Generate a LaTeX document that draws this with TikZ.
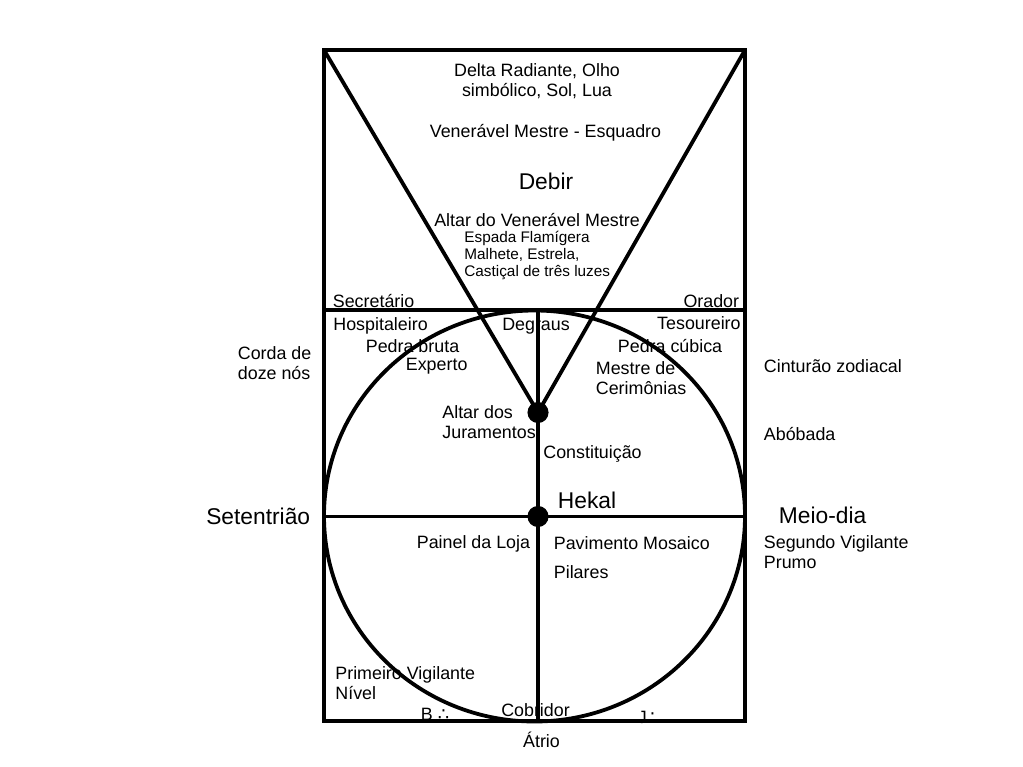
\documentclass[tikz,border=0pt]{standalone}
\usepackage{fontspec}
\setmainfont{Liberation Sans}
\newfontfamily\dejavu{DejaVu Sans}

\begin{document}
\begin{tikzpicture}[x=0.025cm,y=-0.025cm,line width=2.7pt,inner sep=0pt,
	                    line join=miter]
	  	\tikzstyle{txt}=[font=\fontsize{12.7}{14.2}\selectfont]
	  	\tikzstyle{smalltxt}=[font=\fontsize{10.9}{12}\selectfont]
	  	\tikzstyle{bigtxt}=[font=\fontsize{16.2}{18}\selectfont]
	  	\tikzstyle{dotnode}=[circle,fill=black,minimum size=15pt,inner sep=0pt]

		  \useasboundingbox (0,0) rectangle (1023,767);

		  \coordinate (NW) at (324,50);
		  \coordinate (NE) at (745,50);
		  \coordinate (SW) at (324,721);
		  \coordinate (SE) at (745,721);
		  \coordinate (W)  at (324,310);
		  \coordinate (E)  at (745,310);
		  \coordinate (ML) at (324,516.5);
		  \coordinate (MR) at (745,516.5);
		  \coordinate (T)  at (538,310);
		  \coordinate (B)  at (538,721);
		  \coordinate (C)  at (534.5,516);

		  \node[dotnode]        (altar) at (538,412.5) {};
		  \node[dotnode]        (hekal) at (538,516.5) {};

		  \draw (NW) rectangle (SE);
		  \draw (W) -- (E);
		  \draw (ML) -- (MR);
		  \draw (T) -- (B);
		  \draw (NW) -- (altar.center) -- (NE);
		  \draw (C) ellipse [x radius=210.5, y radius=205.5];

		  % Debir
		  \node[txt,align=center]          (delta)        at (537,81.5)    {Delta Radiante, Olho\\simbólico, Sol, Lua};
		  \node[txt]                       (venmestre)    at (545.5,133)   {Venerável Mestre - Esquadro};
		  \node[bigtxt]                    (debir)        at (546,181.5)   {Debir};
		  \node[txt]                       (altarvm)      at (537,220)     {Altar do Venerável Mestre};
		  \node[smalltxt,align=left,anchor=west] (espada) at (462.5,255.5) {Espada Flamígera\\Malhete, Estrela,\\Castiçal de três luzes};
		  \node[txt,anchor=west]           (secretario)   at (331,301)     {Secretário};
		  \node[txt,anchor=east]           (orador)       at (741,301)     {Orador};

		  % Hekal
		  \node[txt,anchor=west]           (hospitaleiro) at (331.5,326)   {Hospitaleiro};
		  \node[txt]                       (degraus)      at (536,326)     {Degraus};
		  \node[txt,anchor=east]           (tesoureiro)   at (742.5,323)   {Tesoureiro};
		  \node[txt,anchor=west]           (pedrabruta)   at (364,346)     {Pedra bruta};
		  \node[txt,anchor=west]           (pedracubica)  at (616,346)     {Pedra cúbica};
		  \node[txt,anchor=west]           (experto)      at (404,366.5)   {Experto};
		  \node[txt,anchor=west,align=left] (mestrecer)   at (594,378)     {Mestre de\\Cerimônias};
		  \node[txt,anchor=west,align=left] (juramentos)  at (440.5,422)   {Altar dos\\Juramentos};
		  \node[txt,anchor=west]           (constituicao) at (541.5,454)   {Constituição};
		  \node[bigtxt,anchor=west]        (hekallbl)     at (556,500.5)   {Hekal};
		  \node[txt,anchor=west]           (painel)       at (415,543.5)   {Painel da Loja};
		  \node[txt,anchor=west]           (pavimento)    at (552,543.5)   {Pavimento Mosaico};
		  \node[txt,anchor=west]           (pilares)      at (552,572)     {Pilares};
		  \node[txt,anchor=west,align=left] (primeiro)    at (333.5,683.5) {Primeiro Vigilante\\Nível};
		  \node[txt,anchor=west]           (boaz)         at (419,714)     {B {\dejavu ∴}};
		  \node[txt]                       (cobridor)     at (535.5,710)   {Cobridor};
		  \node[txt,anchor=west]           (jaquim)       at (636,717)     {J{\dejavu ∴}};
		  \node[txt]                       (atrio)        at (541.5,739.5) {Átrio};

		  % sides
		  \node[txt,anchor=west,align=left] (corda)       at (236,363.5)   {Corda de\\doze nós};
		  \node[bigtxt,anchor=east]        (setentriao)   at (312,516)     {Setentrião};
		  \node[txt,anchor=west]           (cinturao)     at (762,366.5)   {Cinturão zodiacal};
		  \node[txt,anchor=west]           (abobada)      at (762,434)     {Abóbada};
		  \node[bigtxt,anchor=west]        (meiodia)      at (777,515)     {Meio-dia};
		  \node[txt,anchor=west,align=left] (segundo)     at (762,552.5)   {Segundo Vigilante\\Prumo};
		\end{tikzpicture}
\end{document}
